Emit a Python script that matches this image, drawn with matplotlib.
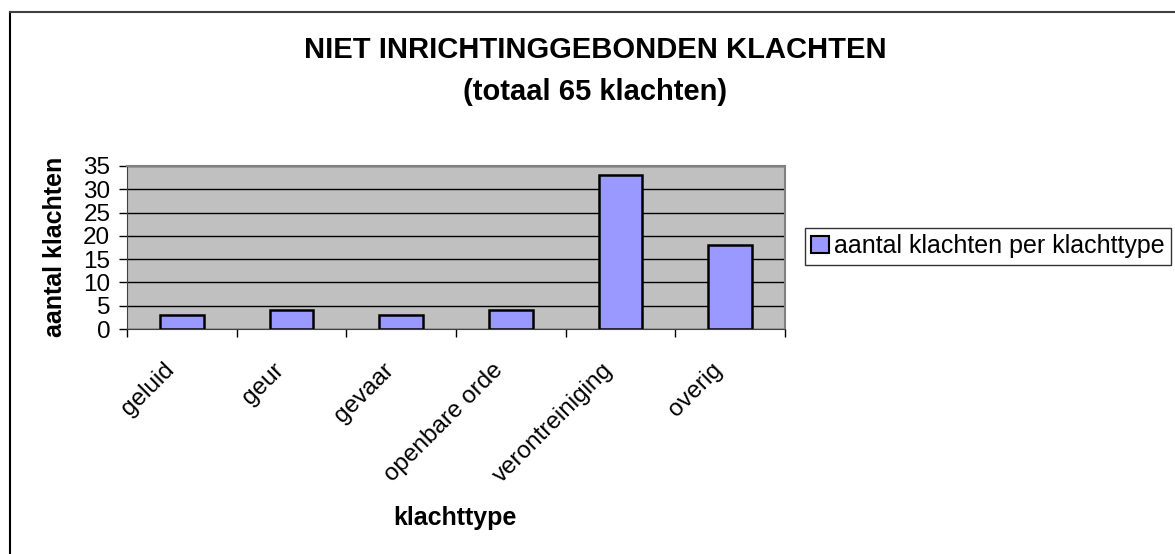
import matplotlib
matplotlib.use("Agg")
import matplotlib.pyplot as plt
import matplotlib.transforms as mtransforms
from matplotlib.lines import Line2D
from matplotlib.patches import Patch

categories = ["geluid", "geur", "gevaar", "openbare orde", "verontreiniging", "overig"]
values = [3, 4, 3, 4, 33, 18]
yticks = [0, 5, 10, 15, 20, 25, 30, 35]
series_name = "aantal klachten per klachttype"

plt.rcParams['font.family'] = ['Liberation Sans', 'DejaVu Sans']

W, H = 1175, 554
fig = plt.figure(figsize=(W/100, H/100), dpi=100)
ax = fig.add_axes([127/W, 1-329/H, (785-127)/W, (329-166)/H])

x = list(range(len(categories)))
ax.bar(x, values, width=0.4, color="#9999FF", edgecolor="black", linewidth=1.8, zorder=3)
ax.set_facecolor("#C0C0C0")
ax.set_xlim(-0.5, len(categories)-0.5)
ax.set_ylim(0, 35)
ax.set_yticks(yticks)
ax.set_yticklabels([str(v) for v in yticks], fontsize=17.5)
ax.yaxis.grid(True, color="black", linewidth=1.0, zorder=1)
ax.set_axisbelow(True)

ax.set_xticks([i - 0.5 for i in range(len(categories)+1)], minor=False)
ax.set_xticklabels([])
ax.set_xticks(x, minor=True)
ax.set_xticklabels(categories, minor=True, rotation=45, ha="right", va="center",
                   rotation_mode="anchor", fontsize=17.5)
ax.tick_params(axis="x", which="minor", length=0, pad=27)
ax.tick_params(axis="x", which="major", length=6, width=1, direction="out")
ax.tick_params(axis="y", length=6, width=1, direction="out", pad=6)
offset = mtransforms.ScaledTranslation(-11/100, 0, fig.dpi_scale_trans)
for lbl in ax.get_xticklabels(minor=True):
    lbl.set_transform(lbl.get_transform() + offset)

for s in ["top", "right"]:
    ax.spines[s].set_color("#808080")
    ax.spines[s].set_linewidth(1.5)
ax.spines["left"].set_color("#404040")
ax.spines["bottom"].set_color("#404040")

fig.text(55/W, 1-247/H, "aantal klachten", rotation=90, ha="center", va="center",
         fontsize=18, fontweight="bold")
fig.text(455/W, 1-518/H, "klachttype", ha="center", va="center",
         fontsize=18, fontweight="bold")

fig.text(595/W, 1-50/H, "NIET INRICHTINGGEBONDEN KLACHTEN", ha="center", va="center",
         fontsize=21, fontweight="bold")
fig.text(595/W, 1-92/H, "(totaal 65 klachten)", ha="center", va="center",
         fontsize=21, fontweight="bold")

handle = Patch(facecolor="#9999FF", edgecolor="black", linewidth=1.5)
leg = fig.legend([handle], [series_name], loc="upper left",
                 bbox_to_anchor=(805/W, 1-228/H), fontsize=18, frameon=True,
                 fancybox=False, edgecolor="black", handlelength=0.7, handleheight=0.7,
                 handletextpad=0.2, borderpad=0.25, borderaxespad=0)
leg.get_frame().set_linewidth(1.0)

fig.add_artist(Line2D([10/W, 10/W], [0, 1-12/H], color="black", linewidth=1.5))
fig.add_artist(Line2D([10/W, 1], [1-12/H, 1-12/H], color="#404040", linewidth=1.5))

fig.savefig("out.png", dpi=100)
